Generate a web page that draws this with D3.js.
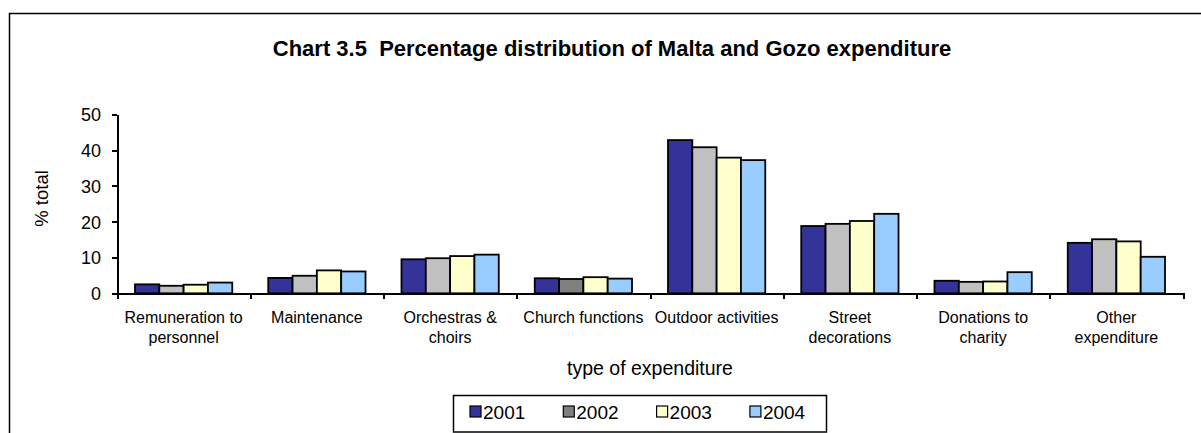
<!DOCTYPE html>
<meta charset="utf-8">
<style>
body { margin: 0; background: #fff; }
svg { display: block; font-family: "Liberation Sans", Arial, sans-serif; }
.axis path, .axis line { fill: none; stroke: #000; stroke-width: 2; shape-rendering: crispEdges; }
.axis text { fill: #000; }
.bar { stroke: #000; stroke-width: 1.8; }
</style>
<body>
<script src="https://d3js.org/d3.v7.min.js"></script>
<script>
// data
var categories = ["Remuneration to personnel", "Maintenance", "Orchestras & choirs", "Church functions",
                  "Outdoor activities", "Street decorations", "Donations to charity", "Other expenditure"];
var tickLabels = [["Remuneration to", "personnel"], ["Maintenance"], ["Orchestras &", "choirs"], ["Church functions"],
                  ["Outdoor activities"], ["Street", "decorations"], ["Donations to", "charity"], ["Other", "expenditure"]];
var years = ["2001", "2002", "2003", "2004"];
var v2001 = [2.5, 4.3, 9.5, 4.2, 42.8, 18.8, 3.5, 14.1];
var v2002 = [2.1, 4.9, 9.8, 4.0, 40.8, 19.4, 3.2, 15.1];
var v2003 = [2.4, 6.4, 10.4, 4.5, 37.9, 20.2, 3.3, 14.5];
var v2004 = [3.0, 6.1, 10.8, 4.1, 37.2, 22.2, 5.9, 10.2];
var yTicks = [0, 10, 20, 30, 40, 50];

var series = [v2001, v2002, v2003, v2004];
var colors = {"2001": "#333399", "2002": "#c0c0c0", "2003": "#ffffcc", "2004": "#99ccff"};
var legendColors = {"2001": "#333399", "2002": "#808080", "2003": "#ffffcc", "2004": "#99ccff"};

var W = 1201, H = 433;
var margin = {top: 114.3, left: 117, right: 18},
    width = 1183 - 117,
    height = 293.3 - 114.3;

var svg = d3.select("body").append("svg")
    .attr("width", W)
    .attr("height", H);

// chart border (right and bottom fall outside the window)
svg.append("rect")
    .attr("x", 9.5).attr("y", 13.5)
    .attr("width", 1220).attr("height", 440)
    .attr("fill", "none").attr("stroke", "#000").attr("stroke-width", 1.5);

svg.append("text")
    .attr("x", 612).attr("y", 56)
    .attr("text-anchor", "middle")
    .style("font-weight", "bold").style("font-size", "22px")
    .text("Chart 3.5\u00a0\u00a0Percentage distribution of Malta and Gozo expenditure");

var g = svg.append("g")
    .attr("transform", "translate(" + margin.left + "," + margin.top + ")");

var x0 = d3.scaleBand()
    .domain(categories)
    .range([0, width])
    .paddingInner(0.27)
    .paddingOuter(0.135);

var x1 = d3.scaleBand()
    .domain(years)
    .range([0, x0.bandwidth()]);

var y = d3.scaleLinear()
    .domain([0, 50])
    .range([height, 0]);

var xEdge = d3.scaleLinear()
    .domain([0, categories.length])
    .range([0, width]);

var rows = categories.map(function (c, i) {
  return {cat: c, vals: years.map(function (yr, j) { return {year: yr, value: series[j][i]}; })};
});

// bars
g.selectAll(".cat")
    .data(rows)
  .enter().append("g")
    .attr("class", "cat")
    .attr("transform", function (d) { return "translate(" + x0(d.cat) + ",0)"; })
  .selectAll("rect")
    .data(function (d) { return d.vals.map(function (v) { v.cat = d.cat; return v; }); })
  .enter().append("rect")
    .attr("class", "bar")
    .attr("x", function (d) { return x1(d.year); })
    .attr("y", function (d) { return y(d.value); })
    .attr("width", x1.bandwidth())
    .attr("height", function (d) { return height - y(d.value); })
    .attr("fill", function (d) {
      // the original colours this one bar darker
      return (d.cat == "Church functions" && d.year == "2002") ? legendColors[d.year] : colors[d.year];
    });

// y axis
var yAxis = g.append("g")
    .attr("class", "y axis")
    .call(d3.axisLeft(y).tickValues(yTicks).tickSize(5).tickSizeOuter(0).tickPadding(11));
yAxis.selectAll("text").style("font-size", "18px").attr("dy", "0.36em");

// x axis: ticks at category edges
var xAxis = g.append("g")
    .attr("class", "x axis")
    .attr("transform", "translate(0," + height + ")")
    .call(d3.axisBottom(xEdge).tickValues(d3.range(categories.length + 1)).tickFormat("").tickSize(6).tickSizeOuter(0));

var lbl = g.append("g")
    .attr("transform", "translate(0," + height + ")")
  .selectAll("text")
    .data(categories)
  .enter().append("text")
    .attr("x", function (d) { return x0(d) + x0.bandwidth() / 2; })
    .attr("y", 30)
    .attr("text-anchor", "middle")
    .style("font-size", "16px");
lbl.selectAll("tspan")
    .data(function (d, i) { return tickLabels[i]; })
  .enter().append("tspan")
    .attr("x", function () { return d3.select(this.parentNode).attr("x"); })
    .attr("dy", function (d, i) { return i ? 20 : 0; })
    .text(function (d) { return d; });

// axis titles
svg.append("text")
    .attr("x", 650).attr("y", 375)
    .attr("text-anchor", "middle")
    .style("font-size", "19.5px")
    .text("type of expenditure");

svg.append("text")
    .attr("transform", "translate(48,198.5) rotate(-90)")
    .attr("text-anchor", "middle")
    .style("font-size", "18.5px")
    .text("% total");

// legend
var legend = svg.append("g");
legend.append("rect")
    .attr("x", 453.5).attr("y", 395.5)
    .attr("width", 373).attr("height", 36.5)
    .attr("fill", "#fff").attr("stroke", "#000").attr("stroke-width", 1.5);

var item = legend.selectAll(".item")
    .data(years)
  .enter().append("g")
    .attr("class", "item")
    .attr("transform", function (d, i) { return "translate(" + (470 + i * 93.3) + ",0)"; });
item.append("rect")
    .attr("x", 0).attr("y", 406)
    .attr("width", 11).attr("height", 11)
    .attr("fill", function (d) { return legendColors[d]; })
    .attr("stroke", "#000").attr("stroke-width", 1.2);
item.append("text")
    .attr("x", 13).attr("y", 418.5)
    .style("font-size", "19px")
    .text(function (d) { return d; });
</script>
</body>
